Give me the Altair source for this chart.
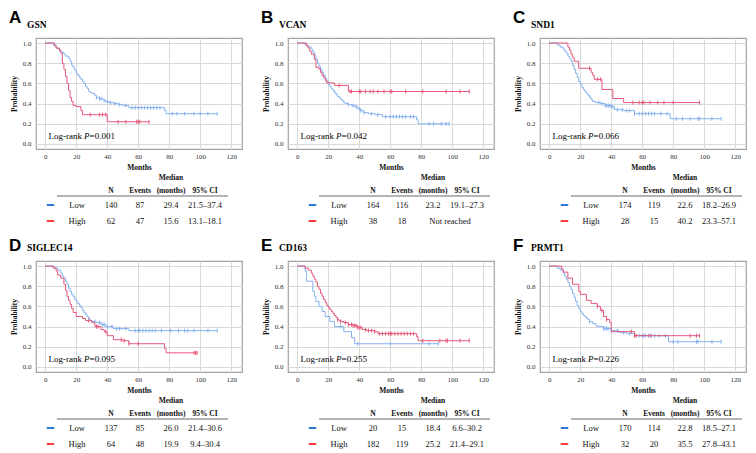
import altair as alt
import pandas as pd

# ---------------- data ----------------
letters = ["A", "B", "C", "D", "E", "F"]
genes = ["GSN", "VCAN", "SND1", "SIGLEC14", "CD163", "PRMT1"]
p_values = ["0.001", "0.042", "0.066", "0.095", "0.255", "0.226"]
groups = ["Low", "High"]
n_low = [140, 164, 174, 137, 20, 170]
n_high = [62, 38, 28, 64, 182, 32]
events_low = [87, 116, 119, 85, 15, 114]
events_high = [47, 18, 15, 48, 119, 20]
median_low = ["29.4", "23.2", "22.6", "26.0", "18.4", "22.8"]
median_high = ["15.6", "", "40.2", "19.9", "25.2", "35.5"]
ci_low = ["21.5–37.4", "19.1–27.3", "18.2–26.9", "21.4–30.6", "6.6–30.2", "18.5–27.1"]
ci_high = ["13.1–18.1", "", "23.3–57.1", "9.4–30.4", "21.4–29.1", "27.8–43.1"]
not_reached_high = ["", "Not reached", "", "", "", ""]
header_labels = ["N", "Events", "Median", "(months)", "95% CI"]

month_ticks = [0, 20, 40, 60, 80, 100, 120]
prob_ticks = [0.0, 0.2, 0.4, 0.6, 0.8, 1.0]

# GSN
gsn_low_t = [0, 5, 7, 9, 10, 12, 13, 15, 16, 17, 18, 19, 20, 21, 22, 23, 24, 25, 26, 27, 28, 29, 30, 32, 33, 35, 37, 38, 39, 41, 44, 47, 50, 54, 77, 78, 111]
gsn_low_s = [1, 0.98, 0.95, 0.93, 0.91, 0.89, 0.87, 0.85, 0.82, 0.78, 0.76, 0.73, 0.70, 0.68, 0.66, 0.64, 0.62, 0.60, 0.57, 0.55, 0.52, 0.51, 0.50, 0.48, 0.46, 0.45, 0.44, 0.43, 0.42, 0.41, 0.40, 0.39, 0.38, 0.36, 0.33, 0.30, 0.30]
gsn_low_c = [33, 35, 36, 38, 40, 42, 45, 48, 52, 56, 58, 60, 62, 64, 66, 68, 70, 72, 74, 82, 85, 90, 96, 100, 105, 111]
gsn_high_t = [0, 6, 7, 9, 10, 11, 12, 13, 14, 15, 16, 17, 18, 20, 23, 24, 40, 67]
gsn_high_s = [1, 0.97, 0.95, 0.93, 0.90, 0.80, 0.74, 0.67, 0.60, 0.53, 0.46, 0.42, 0.38, 0.37, 0.33, 0.29, 0.22, 0.22]
gsn_high_c = [29, 35, 37, 39, 47, 52, 59, 60, 61, 67]

# VCAN
vcan_low_t = [0, 5, 7, 9, 10, 11, 12, 13, 14, 15, 16, 17, 18, 19, 20, 21, 22, 23, 24, 25, 26, 27, 28, 29, 30, 31, 33, 35, 37, 39, 41, 43, 46, 50, 55, 77, 78, 98]
vcan_low_s = [1, 0.98, 0.96, 0.94, 0.91, 0.88, 0.84, 0.80, 0.77, 0.74, 0.71, 0.68, 0.65, 0.62, 0.59, 0.57, 0.55, 0.53, 0.51, 0.49, 0.47, 0.46, 0.44, 0.43, 0.41, 0.40, 0.39, 0.38, 0.37, 0.35, 0.33, 0.31, 0.30, 0.29, 0.27, 0.24, 0.20, 0.20]
vcan_low_c = [33, 36, 38, 40, 41, 43, 48, 52, 57, 60, 62, 64, 66, 68, 70, 73, 75, 85, 88, 93, 96, 98]
vcan_high_t = [0, 6, 7, 8, 9, 11, 12, 14, 15, 16, 17, 18, 19, 24, 33, 111]
vcan_high_s = [1, 0.97, 0.95, 0.92, 0.89, 0.84, 0.76, 0.74, 0.71, 0.68, 0.66, 0.63, 0.605, 0.58, 0.52, 0.52]
vcan_high_c = [27, 34, 35, 40, 41, 44, 47, 49, 52, 56, 60, 61, 70, 81, 96, 105, 111]

# SND1
snd1_low_t = [0, 5, 7, 9, 10, 11, 12, 13, 14, 15, 16, 17, 18, 19, 20, 21, 22, 23, 24, 25, 26, 27, 28, 30, 33, 36, 40, 42, 48, 55, 78, 111]
snd1_low_s = [1, 0.98, 0.96, 0.94, 0.92, 0.90, 0.87, 0.85, 0.82, 0.78, 0.74, 0.70, 0.66, 0.62, 0.59, 0.56, 0.54, 0.52, 0.50, 0.48, 0.46, 0.44, 0.42, 0.41, 0.40, 0.38, 0.37, 0.34, 0.33, 0.30, 0.25, 0.25]
snd1_low_c = [32, 34, 36, 37, 38, 39, 40, 41, 44, 47, 50, 52, 55, 58, 60, 62, 64, 66, 68, 72, 76, 82, 86, 91, 96, 97, 105, 111]
snd1_high_t = [0, 12, 13, 14, 15, 16, 19, 27, 28, 29, 34, 41, 48, 97]
snd1_high_s = [1, 0.96, 0.93, 0.89, 0.86, 0.82, 0.75, 0.71, 0.68, 0.64, 0.54, 0.45, 0.41, 0.41]
snd1_high_c = [26, 31, 33, 54, 58, 60, 61, 65, 70, 74, 80, 97]

# SIGLEC14
sig_low_t = [0, 6, 8, 10, 11, 12, 13, 14, 15, 16, 17, 18, 19, 20, 21, 22, 23, 24, 25, 26, 27, 28, 29, 30, 33, 36, 39, 44, 54, 111]
sig_low_s = [1, 0.98, 0.96, 0.93, 0.90, 0.88, 0.85, 0.82, 0.78, 0.75, 0.72, 0.70, 0.67, 0.65, 0.63, 0.61, 0.59, 0.56, 0.54, 0.52, 0.50, 0.48, 0.46, 0.45, 0.44, 0.42, 0.40, 0.38, 0.36, 0.36]
sig_low_c = [32, 35, 37, 38, 40, 43, 46, 48, 52, 58, 60, 61, 63, 65, 67, 69, 71, 75, 81, 86, 90, 92, 96, 105, 111]
sig_high_t = [0, 5, 7, 8, 10, 12, 13, 14, 15, 16, 17, 18, 20, 24, 26, 30, 32, 36, 38, 40, 44, 50, 54, 77, 78, 98]
sig_high_s = [1, 0.98, 0.95, 0.91, 0.88, 0.82, 0.76, 0.70, 0.66, 0.62, 0.58, 0.54, 0.50, 0.48, 0.46, 0.44, 0.40, 0.37, 0.35, 0.31, 0.27, 0.26, 0.23, 0.18, 0.14, 0.14]
sig_high_c = [28, 33, 34, 39, 49, 51, 54, 60, 96, 97, 98]

# CD163
cd_low_t = [0, 5, 6, 10, 11, 12, 14, 16, 18, 21, 24, 30, 35, 37, 91]
cd_low_s = [1, 0.95, 0.85, 0.75, 0.70, 0.65, 0.60, 0.55, 0.50, 0.45, 0.40, 0.35, 0.29, 0.23, 0.23]
cd_low_c = [28, 39, 60, 85, 91]
cd_high_t = [0, 5, 7, 9, 10, 11, 12, 13, 14, 15, 16, 17, 18, 19, 20, 21, 22, 23, 24, 25, 26, 27, 28, 30, 33, 36, 39, 42, 45, 50, 52, 77, 78, 111]
cd_high_s = [1, 0.98, 0.96, 0.93, 0.90, 0.87, 0.84, 0.80, 0.77, 0.73, 0.70, 0.67, 0.64, 0.61, 0.59, 0.57, 0.55, 0.53, 0.51, 0.49, 0.47, 0.46, 0.45, 0.44, 0.42, 0.41, 0.39, 0.37, 0.36, 0.35, 0.33, 0.30, 0.26, 0.26]
cd_high_c = [26, 28, 31, 33, 35, 36, 37, 38, 39, 40, 41, 44, 46, 48, 50, 53, 55, 57, 59, 60, 61, 63, 65, 67, 69, 71, 73, 75, 81, 92, 96, 97, 105, 111]

# PRMT1
prmt_low_t = [0, 5, 7, 9, 10, 11, 12, 13, 14, 15, 16, 17, 18, 19, 20, 21, 22, 23, 24, 25, 26, 28, 30, 31, 35, 40, 45, 50, 55, 77, 111]
prmt_low_s = [1, 0.98, 0.96, 0.93, 0.90, 0.87, 0.84, 0.80, 0.77, 0.73, 0.69, 0.65, 0.61, 0.58, 0.55, 0.53, 0.51, 0.50, 0.48, 0.47, 0.45, 0.43, 0.41, 0.40, 0.38, 0.36, 0.34, 0.33, 0.31, 0.25, 0.25]
prmt_low_c = [26, 35, 36, 37, 38, 40, 44, 48, 52, 58, 60, 61, 62, 64, 66, 68, 71, 75, 80, 83, 95, 96, 105, 111]
prmt_high_t = [0, 8, 9, 12, 15, 19, 20, 24, 27, 31, 33, 35, 37, 39, 40, 55, 97]
prmt_high_s = [1, 0.97, 0.94, 0.88, 0.82, 0.75, 0.72, 0.66, 0.63, 0.60, 0.56, 0.50, 0.47, 0.44, 0.35, 0.31, 0.31]
prmt_high_c = [31, 34, 37, 53, 55, 56, 65, 91, 95, 97]

curves = {
    "GSN": ((gsn_low_t, gsn_low_s, gsn_low_c), (gsn_high_t, gsn_high_s, gsn_high_c)),
    "VCAN": ((vcan_low_t, vcan_low_s, vcan_low_c), (vcan_high_t, vcan_high_s, vcan_high_c)),
    "SND1": ((snd1_low_t, snd1_low_s, snd1_low_c), (snd1_high_t, snd1_high_s, snd1_high_c)),
    "SIGLEC14": ((sig_low_t, sig_low_s, sig_low_c), (sig_high_t, sig_high_s, sig_high_c)),
    "CD163": ((cd_low_t, cd_low_s, cd_low_c), (cd_high_t, cd_high_s, cd_high_c)),
    "PRMT1": ((prmt_low_t, prmt_low_s, prmt_low_c), (prmt_high_t, prmt_high_s, prmt_high_c)),
}

# ---------------- style ----------------
BLUE = "#86b1ef"
RED = "#e5587a"
SW_BLUE = "#2b7bd6"
SW_RED = "#ff3b3b"
SERIF = "Liberation Serif"
SANS = "Liberation Sans"
FRAME = "#a3a3a3"
W, H = 206, 111
TABLE_H = 54


def surv_at(ts, ss, t):
    v = ss[0]
    for ti, si in zip(ts, ss):
        if ti <= t:
            v = si
    return v


def km_chart(i, row):
    gene = genes[i]
    (lt, ls, lc), (ht, hs, hc) = curves[gene]
    line_df = pd.DataFrame({"t": lt + ht, "s": ls + hs,
                            "g": ["Low"] * len(lt) + ["High"] * len(ht)})
    cens_df = pd.DataFrame({
        "t": lc + hc,
        "s": [surv_at(lt, ls, c) for c in lc] + [surv_at(ht, hs, c) for c in hc],
        "g": ["Low"] * len(lc) + ["High"] * len(hc)})
    x = alt.X("t:Q", scale=alt.Scale(domain=[-6, 127], nice=False, zero=False),
              axis=alt.Axis(values=month_ticks, title="Months", format="d",
                            labelOverlap=False, grid=True))
    y = alt.Y("s:Q", scale=alt.Scale(domain=[-0.05, 1.05], nice=False, zero=False),
              axis=alt.Axis(values=prob_ticks, title="Probability", format=".1f",
                            labelOverlap=False, grid=True))
    color = alt.Color("g:N", scale=alt.Scale(domain=groups, range=[BLUE, RED]), legend=None)
    layers = []
    for g in groups:
        layers.append(alt.Chart(line_df).transform_filter(alt.datum.g == g)
                      .mark_line(interpolate="step-after", strokeWidth=1)
                      .encode(x=x, y=y, color=color))
        layers.append(alt.Chart(cens_df).transform_filter(alt.datum.g == g)
                      .mark_point(shape="M0,-1L0,1", size=16, strokeWidth=1, filled=False, opacity=1)
                      .encode(x=x, y=y, color=color))
    lab_df = pd.DataFrame({"letter": [letters[i]], "gene": [gene], "p": ["=" + p_values[i]],
                           "lx": [2], "ly": [0.075]})
    lab = alt.Chart(lab_df)
    letter_y = -15 if row == 0 else -10
    px = alt.X("lx:Q", scale=alt.Scale(domain=[-6, 127], nice=False, zero=False),
               axis=alt.Axis(values=month_ticks, title="Months", format="d",
                             labelOverlap=False, grid=True))
    py = alt.Y("ly:Q", scale=alt.Scale(domain=[-0.05, 1.05], nice=False, zero=False),
               axis=alt.Axis(values=prob_ticks, title="Probability", format=".1f",
                             labelOverlap=False, grid=True))
    layers += [
        lab.mark_text(font=SANS, fontWeight="bold", fontSize=17, align="left", baseline="alphabetic")
           .encode(x=alt.value(-27), y=alt.value(letter_y), text="letter:N"),
        lab.mark_text(font=SERIF, fontWeight="bold", fontSize=9.5, align="left", baseline="alphabetic")
           .encode(x=alt.value(-9), y=alt.value(-10), text="gene:N"),
        lab.mark_text(font=SERIF, fontSize=9, align="left", baseline="middle")
           .encode(x=px, y=py, text=alt.value("Log-rank")),
        lab.mark_text(font=SERIF, fontSize=9, align="left", baseline="middle", fontStyle="italic", dx=35.7)
           .encode(x=px, y=py, text=alt.value("P")),
        lab.mark_text(font=SERIF, fontSize=9, align="left", baseline="middle", dx=41.2)
           .encode(x=px, y=py, text="p:N"),
    ]
    return alt.layer(*layers).properties(
        width=W, height=H, view=alt.ViewBackground(stroke=FRAME, strokeWidth=1.2))


def table_chart(i, xoff):
    df = pd.DataFrame({
        "g": groups,
        "n": [str(n_low[i]), str(n_high[i])],
        "ev": [str(events_low[i]), str(events_high[i])],
        "med": [median_low[i], median_high[i]],
        "ci": [ci_low[i], ci_high[i]],
        "nr": ["", not_reached_high[i]],
    })
    yrow = alt.Y("g:N", scale=alt.Scale(domain=groups, range=[32, 48], padding=0), axis=None)
    base = alt.Chart(df)
    layers = []
    for g, col in zip(groups, [SW_BLUE, SW_RED]):
        layers.append(base.transform_filter(alt.datum.g == g)
                      .mark_point(shape="M-1,0L1,0", size=56, strokeWidth=2, filled=False, opacity=1, color=col)
                      .encode(x=alt.value(24.5 + xoff), y=yrow))
    for field, xpos in [("g", 51), ("n", 85), ("ev", 114), ("med", 145), ("ci", 179), ("nr", 162)]:
        layers.append(base.mark_text(font=SERIF, fontSize=8.5, align="center", baseline="middle", color="#111")
                      .encode(x=alt.value(xpos + xoff), y=yrow, text=f"{field}:N"))
    hdr = alt.Chart(pd.DataFrame({"k": [0]}))
    for txt, xpos, ypos in zip(header_labels, [85, 114, 145, 145, 179], [18, 18, 5, 18, 18]):
        layers.append(hdr.mark_text(font=SERIF, fontSize=7.5, fontWeight="bold", align="center", baseline="middle", color="#111")
                      .encode(x=alt.value(xpos + xoff), y=alt.value(ypos), text=alt.value(txt)))
    layers.append(hdr.mark_rule(color="#444", strokeWidth=0.8)
                  .encode(x=alt.value(31 + xoff), x2=alt.value(202 + xoff), y=alt.value(23)))
    return alt.layer(*layers).properties(
        width=W, height=TABLE_H, view=alt.ViewBackground(stroke="transparent"))


xoffs = [-10, 0, 0]
panels = []
for i in range(6):
    r, c = divmod(i, 3)
    panels.append(alt.vconcat(km_chart(i, r), table_chart(i, xoffs[c]), spacing=0))

chart = alt.vconcat(
    alt.hconcat(*panels[:3], spacing=17),
    alt.hconcat(*panels[3:], spacing=17),
    spacing=8,
).properties(
    padding={"left": 0, "right": 0, "top": 0, "bottom": 0}
).configure_axis(
    labelFont=SERIF, labelFontSize=7, labelColor="#333",
    titleFont=SERIF, titleFontSize=7.5, titleFontWeight="bold", titleColor="#111",
    ticks=False, domain=False, gridColor="#d9d9d9", gridWidth=1,
    labelFlush=False, labelOverlap=False,
).configure_axisY(
    labelPadding=5, titlePadding=4,
).configure_axisX(
    labelPadding=3, titlePadding=4,
)

chart.save("out.html", embed_options={"renderer": "svg", "actions": False})
